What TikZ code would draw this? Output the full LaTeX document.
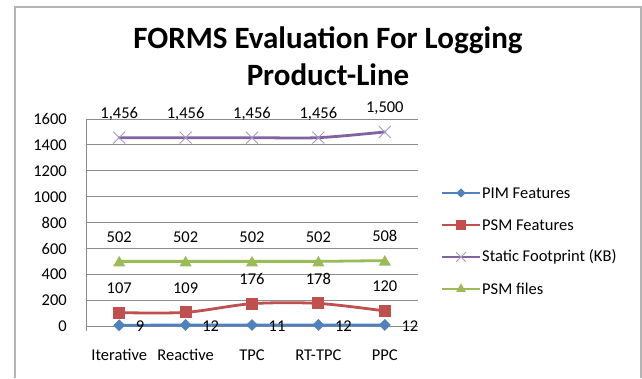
\documentclass[tikz,border=0pt]{standalone}
\usepackage{fontspec}
\setmainfont{Carlito}
\usetikzlibrary{shapes.geometric,shapes.misc,calc}
\definecolor{pim}{HTML}{4F81BD}
\definecolor{psm}{HTML}{C0504D}
\definecolor{stat}{HTML}{8064A2}
\definecolor{statlight}{HTML}{A898C4}
\definecolor{files}{HTML}{9BBB59}
\definecolor{framecol}{HTML}{B4B4B4}
\definecolor{gridcol}{HTML}{8C8C8C}
\tikzset{
  gridline/.style={draw=gridcol, line width=0.9pt},
  series/.style={line width=2.8pt, line join=round, line cap=round},
  pimmark/.style={diamond, fill=pim, inner sep=0pt, minimum width=12pt, minimum height=12pt},
  psmmark/.style={rectangle, fill=psm, inner sep=0pt, minimum size=12pt},
  statmark/.style={cross out, draw=statlight, line width=0.9pt, inner sep=0pt, minimum size=11pt},
  filemark/.style={regular polygon, regular polygon sides=3, fill=files, inner sep=0pt, minimum size=14pt},
  txt/.style={font=\fontsize{16.5}{19}\selectfont, inner sep=0pt, text=black},
  titletxt/.style={font=\fontsize{31}{36}\selectfont\bfseries, inner sep=0pt},
}
\begin{document}
\begin{tikzpicture}[x=1pt,y=1pt]
\useasboundingbox (0,0) rectangle (642,378);
\fill[white] (0,0) rectangle (642,378);
% frame
\draw[framecol, line width=2pt] (14.5,0) -- (14.5,371) -- (640.5,371) -- (640.5,0);
% title
\node[titletxt, anchor=base] (title1) at (328,329) {FORMS Evaluation For Logging};
\node[titletxt, anchor=base] (title2) at (328,292) {Product-Line};
% grid and axis
\foreach \v in {0,200,...,1600} {
  \draw[gridline] (86,{51.5+0.1297*\v}) -- (418,{51.5+0.1297*\v});
  \node[txt, anchor=east] (ylab\v) at (67,{51.5+0.1297*\v}) {\v};
}
\draw[gridline] (86,51.5) -- (86,{51.5+0.1297*1600});
\draw[gridline] (86,51.5) -- (86,47);
% categories
\foreach \i/\n in {1/Iterative,2/Reactive,3/TPC,4/RT-TPC,5/PPC} {
  \node[txt] (cat\i) at ({52.8+66.4*\i},23) {\n};
}
% data points
\foreach \i/\a/\b/\c/\d in {1/9/107/1456/502, 2/12/109/1456/502, 3/11/176/1456/502, 4/12/178/1456/502, 5/12/120/1500/508} {
  \coordinate (pim\i) at ({52.8+66.4*\i},{51.5+0.1297*\a});
  \coordinate (psm\i) at ({52.8+66.4*\i},{51.5+0.1297*\b});
  \coordinate (st\i) at ({52.8+66.4*\i},{51.5+0.1297*\c});
  \coordinate (fi\i) at ({52.8+66.4*\i},{51.5+0.1297*\d});
}
% lines
\draw[series, files] (fi1) -- (fi2) -- (fi3) -- (fi4) -- (fi5);
\draw[series, stat] plot[smooth, tension=0.5] coordinates {(st1) (st2) (st3) (st4) (st5)};
\draw[series, psm] plot[smooth, tension=0.5] coordinates {(psm1) (psm2) (psm3) (psm4) (psm5)};
\draw[series, pim] (pim1) -- (pim2) -- (pim3) -- (pim4) -- (pim5);
% markers and labels
\foreach \i/\a/\b/\cl/\d in {1/9/107/{1,456}/502, 2/12/109/{1,456}/502, 3/11/176/{1,456}/502, 4/12/178/{1,456}/502, 5/12/120/{1,500}/508} {
  \node[filemark, yshift=-1.5pt] (fim\i) at (fi\i) {};
  \node[statmark] (stm\i) at (st\i) {};
  \node[psmmark] (psmm\i) at (psm\i) {};
  \node[pimmark] (pimm\i) at (pim\i) {};
  \node[txt] (fil\i) at ($(fi\i)+(0,24.5)$) {\d};
  \node[txt] (stl\i) at ($(st\i)+(0,23.5)$) {\cl};
  \node[txt] (psml\i) at ($(psm\i)+(0,24.5)$) {\b};
  \node[txt, anchor=west] (piml\i) at ($(pim\i)+(16.5,-1)$) {\a};
}
% legend
\foreach \j/\n/\col/\mk in {1/PIM Features/pim/pimmark, 2/PSM Features/psm/psmmark, 3/Static Footprint (KB)/stat/statmark, 4/PSM files/files/filemark} {
  \coordinate (lega\j) at (442,{217-32*\j});
  \coordinate (legb\j) at (480,{217-32*\j});
  \draw[series, \col, line cap=butt] (lega\j) -- (legb\j);
  \node[\mk, scale=0.8] (legm\j) at ($(lega\j)!0.5!(legb\j)$) {};
  \node[txt, anchor=west] (legt\j) at ($(legb\j)+(2,0)$) {\n};
}
\end{tikzpicture}
\end{document}
